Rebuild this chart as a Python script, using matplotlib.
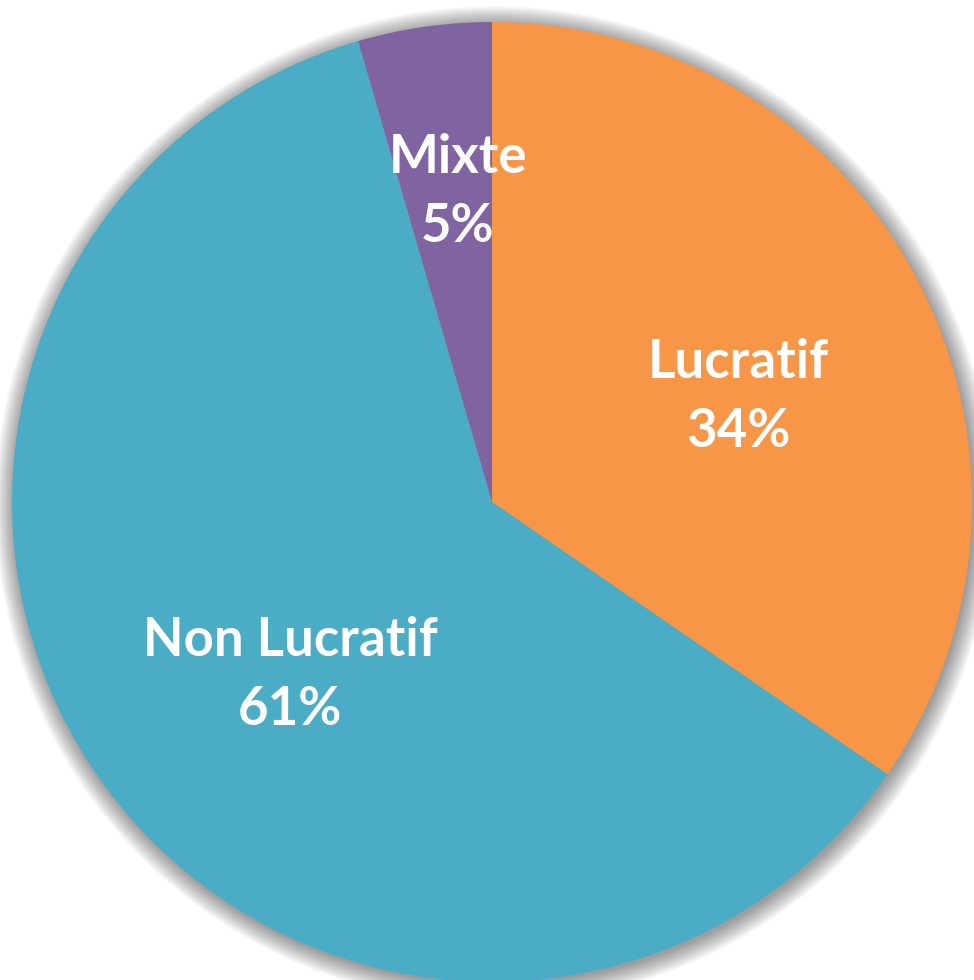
import numpy as np
import matplotlib.pyplot as plt
from matplotlib.patches import Circle

# data
categories = ['Lucratif', 'Non Lucratif', 'Mixte']
shares = [34.6, 60.9, 4.5]
pct_text = ['34%', '61%', '5%']
colors = ['#F79646', '#4BACC6', '#8064A2']
label_dist = [0.55, 0.55, 0.69]

W, H = 974, 980
cx, cy, r = 492, 502, 480  # pixel centre / radius of the pie

fig = plt.figure(figsize=(W / 100, H / 100), dpi=100)
ax = fig.add_axes([0, 0, 1, 1])

# soft shadow
for i in range(14):
    ax.add_patch(Circle((0.004, -0.006), 1.0 + 0.003 * i, color='black',
                        alpha=0.03, lw=0, zorder=0))

wedges, _ = ax.pie(shares, colors=colors, startangle=90, counterclock=False,
                   radius=1.0, wedgeprops=dict(linewidth=0))
for w in wedges:
    w.set_zorder(1)

for w, name, pct, d in zip(wedges, categories, pct_text, label_dist):
    mid = np.deg2rad((w.theta1 + w.theta2) / 2)
    x, y = d * np.cos(mid), d * np.sin(mid)
    ax.annotate(f'{name}\n{pct}', (x, y), xytext=(9, -13), textcoords='offset points',
                ha='center', va='center', color='white',
                fontsize=38, fontweight='bold', family=['Lato', 'DejaVu Sans'],
                linespacing=1.5, zorder=3)

ax.set_aspect('auto')
ax.set_xlim(-cx / r, (W - cx) / r)
ax.set_ylim(-(H - cy) / r, cy / r)
ax.axis('off')

fig.savefig('out.png', dpi=100)
